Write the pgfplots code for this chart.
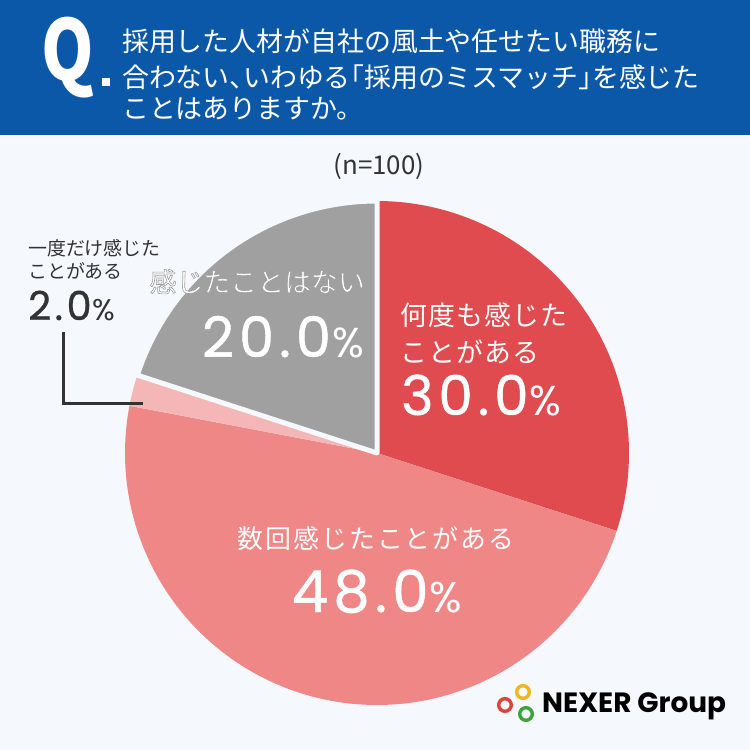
\documentclass[border=0pt]{standalone}
\usepackage{pgfplots}
\pgfplotsset{compat=1.18}
\usepackage{pgfplotstable}
\usepackage{fontspec}
\setmainfont{Noto Sans CJK JP}
\newfontfamily\pop{Poppins}[FakeBold=0.8, LetterSpace=9]
\newfontfamily\popl{Poppins}
\definecolor{hdr}{HTML}{0C58A8}
\definecolor{bg}{HTML}{F5F8FC}
\definecolor{cRed}{HTML}{E04B4F}
\definecolor{cPink}{HTML}{F08787}
\definecolor{cLight}{HTML}{F4B6B6}
\definecolor{cGray}{HTML}{A0A0A0}
\definecolor{txt}{HTML}{333333}
\definecolor{lgR}{HTML}{D9443A}
\definecolor{lgY}{HTML}{F0B523}
\definecolor{lgG}{HTML}{3DA33B}

\pgfplotstableread{
label value
many 30
several 48
once 2
never 20
}\piedata

\newcommand{\fs}[1]{\fontsize{#1}{#1}\selectfont}
\newcommand{\pct}[3]{{\pop\fs{#1}#3\hspace{0.02em}{\popl\fs{#2}\%}}}
\newcommand{\hp}[1]{{\addfontfeature{RawFeature=+halt}#1}}

\begin{document}
\begin{tikzpicture}
\pgfplotstablegetelem{0}{value}\of\piedata \let\va\pgfplotsretval
\pgfplotstablegetelem{1}{value}\of\piedata \let\vb\pgfplotsretval
\pgfplotstablegetelem{2}{value}\of\piedata \let\vc\pgfplotsretval
\pgfplotstablegetelem{3}{value}\of\piedata \let\vd\pgfplotsretval
\pgfmathsetmacro\aA{90}
\pgfmathsetmacro\aB{\aA-3.6*\va}
\pgfmathsetmacro\aC{\aB-3.6*\vb}
\pgfmathsetmacro\aD{\aC-3.6*\vc}
\pgfmathsetmacro\aE{\aD-3.6*\vd}
\begin{axis}[hide axis, scale only axis, width=750bp, height=750bp,
  xmin=0, xmax=750, ymin=0, ymax=750, y dir=reverse, clip=false]
% background
\fill[bg] (0,0) rectangle (750,750);
\fill[hdr] (0,0) rectangle (750,135);
% pie
\addplot[fill=cRed, draw=none, domain=\aB:\aA, samples=90, variable=\t]
  ({377+252*cos(\t)},{453-252*sin(\t)}) -- (377,453) -- cycle;
\addplot[fill=cPink, draw=none, domain=\aC:\aB, samples=120, variable=\t]
  ({377+252*cos(\t)},{453-252*sin(\t)}) -- (377,453) -- cycle;
\addplot[fill=cLight, draw=none, domain=\aD:\aC, samples=10, variable=\t]
  ({377+252*cos(\t)},{453-252*sin(\t)}) -- (377,453) -- cycle;
\addplot[fill=cGray, draw=bg, line width=5bp, line join=round, domain=\aE:\aD, samples=90, variable=\t]
  ({377+252*cos(\t)},{453-252*sin(\t)}) -- (377,453) -- cycle;
% header text
\node[text=white, anchor=base west, inner sep=0, xscale=0.8] at (41,80) {\bfseries\fs{84}Q};
\fill[white] (102,78) rectangle (110,86);
\node[text=white, anchor=base west, inner sep=0] at (122,52) {\fs{27}採用した人材が自社の風土や任せたい職務に};
\node[text=white, anchor=base west, inner sep=0] at (122,87) {\fs{27}合わない\hp{、}いわゆる\hp{「}採用のミスマッチ\hp{」}を感じた};
\node[text=white, anchor=base west, inner sep=0] at (122,118) {\fs{27}ことはありますか。};
\node[text=txt, anchor=base, inner sep=0] at (379,174) {\fs{26}(n=100)};
% red label
\node[text=white, anchor=base west, inner sep=0] at (400,325) {\fs{27}\addfontfeature{LetterSpace=4}何度も感じた};
\node[text=white, anchor=base west, inner sep=0] at (400,362) {\fs{27}\addfontfeature{LetterSpace=4}ことがある};
\node[text=white, anchor=base west, inner sep=0] at (401,415) {\pct{55}{42}{30.0}};
% pink label
\node[text=white, anchor=base, inner sep=0] at (376,548) {\fs{26}\addfontfeature{LetterSpace=8}数回感じたことがある};
\node[text=white, anchor=base, inner sep=0] at (377,612) {\pct{58}{43}{48.0}};
% gray label with outline (fill white, stroke gray)
\node[text=white, anchor=base east, inner sep=0] at (365,292) {\fs{27}\special{pdf:code q 0.62 0.62 0.62 RG 0.6 w 1 j 2 Tr}感じたことはない\special{pdf:code 0 Tr Q}};
\node[text=white, anchor=base east, inner sep=0] at (364,357) {\pct{56}{42}{20.0}};
% small slice label
\node[text=txt, anchor=base west, inner sep=0] at (28,255) {\fs{19}一度だけ感じた};
\node[text=txt, anchor=base west, inner sep=0] at (28,278) {\fs{19}ことがある};
\node[text=txt, anchor=base west, inner sep=0] at (28,320) {\pct{40}{30}{2.0}};
\draw[txt, line width=3bp] (63,332) -- (63,403) -- (143,403);
% logo
\draw[lgY, line width=3.4bp] (523,692) circle[radius=6.3];
\draw[lgR, line width=3.4bp] (505,705) circle[radius=6.3];
\draw[lgG, line width=3.4bp] (526,714) circle[radius=6.3];
\node[text=black, anchor=west, inner sep=0] at (542,706) {\popl\bfseries\fs{28}NEXER Group};
\end{axis}
\end{tikzpicture}
\end{document}
